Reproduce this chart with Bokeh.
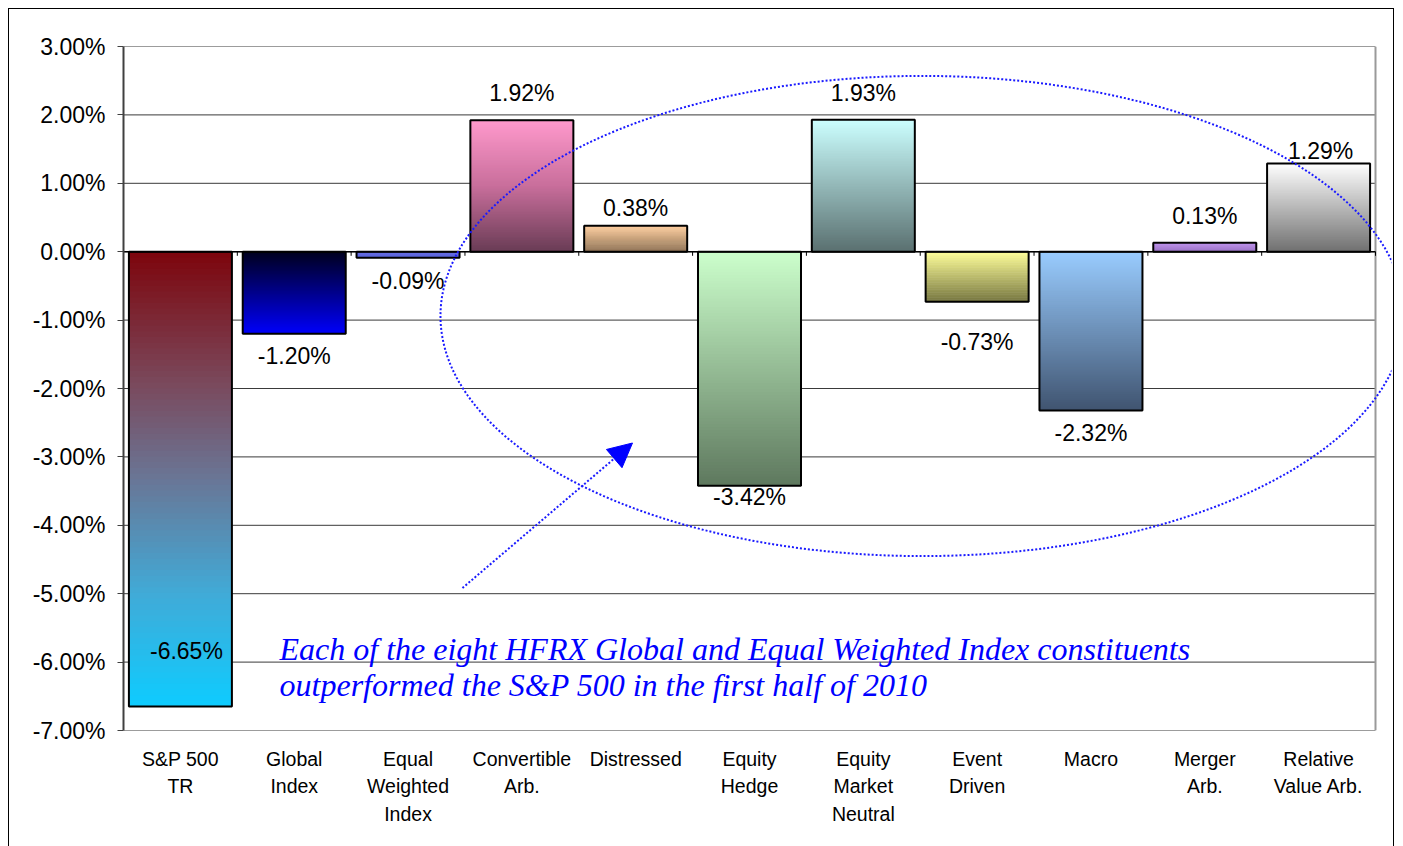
from bokeh.plotting import figure
from bokeh.models import Range1d, FixedTicker, Label, Arrow, NormalHead, ColumnDataSource
from bokeh.embed import file_html
from bokeh.resources import INLINE

# ---- data ----
categories = ["S&P 500\nTR", "Global\nIndex", "Equal\nWeighted\nIndex", "Convertible\nArb.",
              "Distressed", "Equity\nHedge", "Equity\nMarket\nNeutral", "Event\nDriven",
              "Macro", "Merger\nArb.", "Relative\nValue Arb."]
returns = [-6.65, -1.20, -0.09, 1.92, 0.38, -3.42, 1.93, -0.73, -2.32, 0.13, 1.29]
y_ticks = [-7, -6, -5, -4, -3, -2, -1, 0, 1, 2, 3]

# ---- styles ----
# gradient stops from screen-top to screen-bottom of each bar
grad_stops = [
    [(0.0, (125, 5, 12)), (0.3, (122, 75, 95)), (0.5, (105, 118, 150)), (0.75, (65, 170, 215)), (1.0, (14, 204, 255))],
    [(0.0, (0, 0, 30)), (1.0, (0, 0, 250))],
    [(0.0, (90, 100, 230)), (1.0, (70, 80, 210))],
    [(0.0, (255, 153, 204)), (0.5, (200, 110, 155)), (1.0, (105, 60, 85))],
    [(0.0, (255, 204, 153)), (1.0, (135, 105, 75))],
    [(0.0, (204, 255, 204)), (1.0, (94, 120, 94))],
    [(0.0, (204, 255, 255)), (1.0, (90, 112, 112))],
    [(0.0, (255, 255, 153)), (1.0, (118, 118, 64))],
    [(0.0, (153, 204, 255)), (1.0, (64, 84, 112))],
    [(0.0, (185, 135, 235)), (1.0, (140, 95, 190))],
    [(0.0, (255, 255, 255)), (1.0, (112, 112, 112))],
]
label_dy = [-56, 22, 23, -27, -18, 11, -27, 40, 23, -27, -12]
label_dx = [6, 0, 0, 0, 0, 0, 0, 0, 0, 0, 2]

FONT = "Liberation Sans"
n = len(categories)
bar_w = 0.905


def interp(stops, t):
    for (t0, c0), (t1, c1) in zip(stops[:-1], stops[1:]):
        if t0 <= t <= t1:
            f = (t - t0) / (t1 - t0) if t1 > t0 else 0
            return "#%02x%02x%02x" % tuple(int(round(a + (b - a) * f)) for a, b in zip(c0, c1))
    c = stops[-1][1]
    return "#%02x%02x%02x" % c


p = figure(frame_width=1268, frame_height=684, output_backend="svg", toolbar_location=None,
           x_range=Range1d(0, n * 1268 / 1252), y_range=Range1d(y_ticks[0], y_ticks[-1]),
           min_border_left=114, min_border_top=37, min_border_bottom=116, min_border_right=2,
           background_fill_color="white", border_fill_color="white")
p.styles = {"border": "1px solid black", "margin-left": "8px", "margin-top": "8px"}
p.outline_line_color = None
p.xgrid.visible = False
p.ygrid.visible = False

# gridlines (manual, limited to the category span)
p.segment(x0=[0] * len(y_ticks), x1=[n] * len(y_ticks), y0=y_ticks, y1=y_ticks,
          line_color="#3a3a3a", line_width=1)
# right border of plot area
p.segment(x0=[n], x1=[n], y0=[y_ticks[0]], y1=[y_ticks[-1]], line_color="#9a9a9a", line_width=2)

# gradient bars (overlapping slices, drawn top to bottom)
N = 80
xl, xr, yb, yt, cols = [], [], [], [], []
for i, v in enumerate(returns):
    top = max(v, 0)
    bot = min(v, 0)
    h = top - bot
    for k in range(N):
        s_top = top - h * k / N
        s_bot = max(bot, top - h * (k + 1.8) / N)
        xl.append(i + 0.5 - bar_w / 2)
        xr.append(i + 0.5 + bar_w / 2)
        yt.append(s_top)
        yb.append(s_bot)
        cols.append(interp(grad_stops[i], (k + 0.5) / N))
p.quad(left=xl, right=xr, bottom=yb, top=yt, fill_color=cols, line_color=None)

centers = [i + 0.5 for i in range(n)]
p.quad(left=[c - bar_w / 2 for c in centers], right=[c + bar_w / 2 for c in centers],
       bottom=[min(v, 0) for v in returns], top=[max(v, 0) for v in returns],
       fill_color=None, line_color="black", line_width=2)

# zero axis with category separator ticks
p.segment(x0=[0], x1=[n], y0=[0], y1=[0], line_color="black", line_width=1.5)
p.segment(x0=list(range(n + 1)), x1=list(range(n + 1)), y0=[0] * (n + 1), y1=[-0.06] * (n + 1),
          line_color="black", line_width=1)

# data labels
src = ColumnDataSource(dict(x=centers, y=returns, t=["%.2f%%" % v for v in returns],
                            dy=label_dy, dx=label_dx))
p.text(x="x", y="y", text="t", x_offset="dx", y_offset="dy", source=src, text_align="center",
       text_baseline="middle", text_font_size="23px", text_color="black",
       text_font={"value": FONT})

# ellipse highlight
p.ellipse(x=[7.02], y=[-0.94], width=[8.47], height=[7.02], fill_color=None,
          line_color="#1a1aff", line_width=2, line_dash="2 2")

# arrow
p.add_layout(Arrow(x_start=2.978, y_start=-4.917, x_end=4.472, y_end=-2.797,
                   line_color="#1a1aff", line_width=2, line_dash="2 2",
                   end=NormalHead(size=24, fill_color="blue", line_color="blue")))

# annotation text
for yy, txt in [(-5.81, "Each of the eight HFRX Global and Equal Weighted Index constituents"),
                (-6.34, "outperformed the S&P 500 in the first half of 2010")]:
    p.add_layout(Label(x=1.371, y=yy, text=txt, text_font="Liberation Serif",
                       text_font_style="italic", text_font_size="32px", text_color="blue",
                       text_baseline="alphabetic"))

# axes
ya = p.yaxis[0]
ya.ticker = FixedTicker(ticks=y_ticks)
ya.major_label_overrides = {t: "%.2f%%" % t for t in y_ticks}
ya.major_label_text_font = FONT
ya.major_label_text_font_size = "23px"
ya.major_label_text_color = "black"
ya.axis_line_color = "#404040"
ya.axis_line_width = 2
ya.major_tick_line_color = "#404040"
ya.major_tick_out = 6
ya.major_tick_in = 0
ya.minor_tick_line_color = None
ya.major_label_standoff = 12

xa = p.xaxis[0]
xa.ticker = FixedTicker(ticks=centers)
xa.major_label_overrides = {c: lab for c, lab in zip(centers, categories)}
xa.major_label_text_font = FONT
xa.major_label_text_font_size = "19.5px"
xa.major_label_text_color = "black"
xa.major_label_text_line_height = 1.25
xa.axis_line_color = None
xa.major_tick_line_color = None
xa.minor_tick_line_color = None
xa.major_label_standoff = 11

open("out.html", "w").write(file_html(p, INLINE))
